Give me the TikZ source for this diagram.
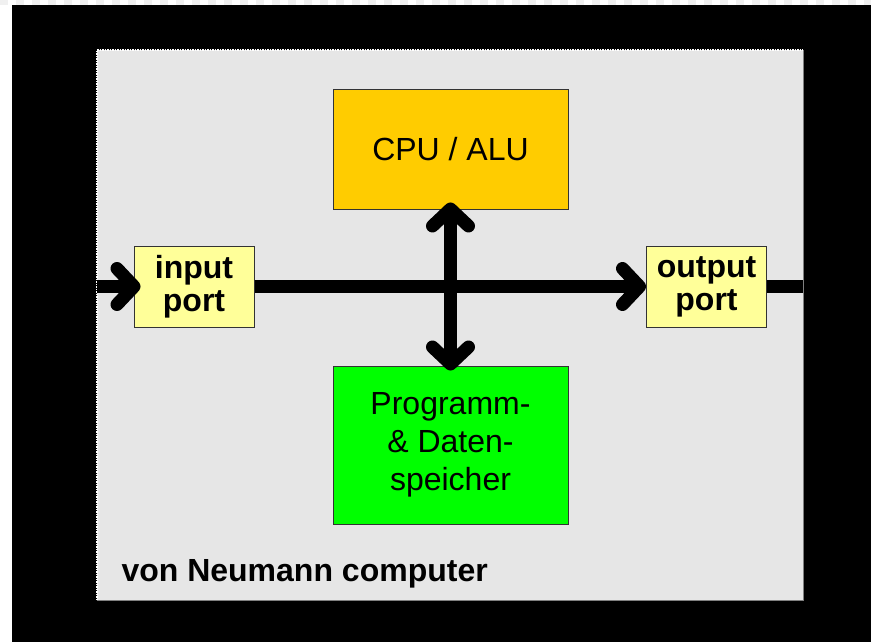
\documentclass[tikz,border=0pt]{standalone}
\usepackage{fontspec}
\setmainfont{Liberation Sans}
\usepackage{tikz}
\usetikzlibrary{arrows.meta,positioning}
\definecolor{framegray}{HTML}{E6E6E6}
\definecolor{cpuorange}{HTML}{FFCC00}
\definecolor{memgreen}{HTML}{00FF00}
\definecolor{portyellow}{HTML}{FFFF99}
\definecolor{edgegray}{HTML}{808080}
\tikzset{
  unitbox/.style={
    draw=black!80,
    line width=1pt,
    minimum width=235pt,
    align=center,
    inner sep=0pt,
    font=\fontsize{32}{38}\selectfont
  },
  portbox/.style={
    draw=black!80,
    fill=portyellow,
    line width=1pt,
    minimum width=120pt,
    minimum height=81pt,
    align=center,
    inner sep=0pt,
    font=\fontsize{32}{33}\selectfont\bfseries
  },
  busline/.style={
    line width=13pt,
    draw=black
  },
  busarrow/.style={
    busline,
    -{Straight Barb[length=17pt,width=36pt,round]}
  }
}

\begin{document}
\begin{tikzpicture}[x=1pt,y=-1pt]
\useasboundingbox (0,0) rectangle (871,642);
\fill[white] (0,0) rectangle (871,642);
\draw[gray!12, line width=5pt, dash pattern=on 8pt off 8pt] (0,2.5) -- (871,2.5);
\fill[black] (12,5) rectangle (871,642);
% the computer frame
\fill[framegray] (97,50) rectangle (803,600);
\draw[edgegray, line width=1pt] (97,600) -- (803,600) -- (803,50);
\draw[white, line width=1.5pt, densely dotted] (97,600) -- (97,50) -- (803,50);
\node[anchor=base west, font=\fontsize{32}{38}\selectfont\bfseries] (caption) at (118,581) {von Neumann computer};

\node[unitbox, fill=cpuorange, minimum height=119pt] (cpu) at (450.5,149.5) {CPU / ALU};
\node[unitbox, fill=memgreen, minimum height=158pt, below=156pt of cpu] (mem) {Programm-\\\& Daten-\\speicher};
\node[portbox] (inport) at (194,286.5) {input\\port};
\node[portbox] (outport) at (706.5,286.5) {output\\port};
\coordinate (busin) at (97,286.5);
\coordinate (busout) at (803,286.5);

\draw[busarrow, shorten >=-7pt] (busin) -- (inport);
\draw[busarrow] (inport) -- (outport);
\draw[busline] (outport) -- (busout);
\draw[busline, {Straight Barb[length=17pt,width=36pt,round]}-{Straight Barb[length=17pt,width=36pt,round]}, shorten <=-7pt, shorten >=-5pt] (cpu) -- (mem);
\end{tikzpicture}
\end{document}
